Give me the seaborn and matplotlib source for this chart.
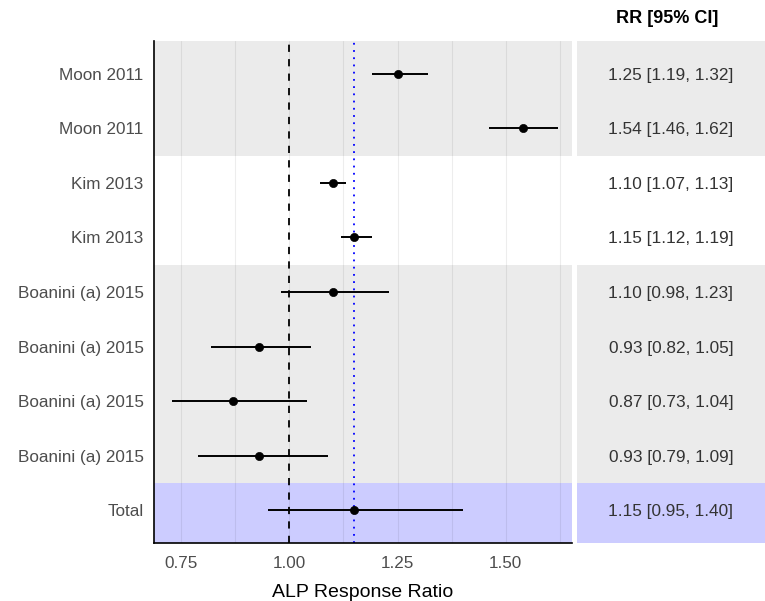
import numpy as np
import pandas as pd
import matplotlib
matplotlib.use('Agg')
import matplotlib.pyplot as plt
import seaborn as sns

# data
studies = ['Moon 2011', 'Moon 2011', 'Kim 2013', 'Kim 2013',
           'Boanini (a) 2015', 'Boanini (a) 2015', 'Boanini (a) 2015',
           'Boanini (a) 2015', 'Total']
rr = [1.25, 1.54, 1.10, 1.15, 1.10, 0.93, 0.87, 0.93, 1.15]
ci_low = [1.19, 1.46, 1.07, 1.12, 0.98, 0.82, 0.73, 0.79, 0.95]
ci_high = [1.32, 1.62, 1.13, 1.19, 1.23, 1.05, 1.04, 1.09, 1.40]
# band colour per row group
band_groups = [(0, 1, '#EBEBEB'), (2, 3, '#FFFFFF'), (4, 7, '#EBEBEB'), (8, 8, '#CCCCFF')]
x_ticks = [0.75, 1.00, 1.25, 1.50]
pooled = 1.15

df = pd.DataFrame({'study': studies, 'rr': rr, 'lo': ci_low, 'hi': ci_high})
df['pos'] = np.arange(len(df))

sns.set_style('white')
plt.rcParams['font.family'] = ['Liberation Sans', 'DejaVu Sans']

fig = plt.figure(figsize=(7.65, 6.01), dpi=100)
W, H = 765, 601
top, bottom = 41, 543
ax = fig.add_axes([154 / W, (H - bottom) / H, (572 - 154) / W, (bottom - top) / H])
ax_t = fig.add_axes([577 / W, (H - bottom) / H, (W - 577) / W, (bottom - top) / H])

n = len(df)
y0, y1 = -0.6, n - 0.4

# background bands
for a in (ax, ax_t):
    for s, e, c in band_groups:
        lo = y0 if s == 0 else s - 0.5
        hi = y1 if e == n - 1 else e + 0.5
        a.axhspan(lo, hi, color=c, lw=0, zorder=0)

# grid lines (major + minor)
for g in np.arange(0.625, 1.7, 0.125):
    ax.axvline(g, color='black', alpha=0.07, lw=0.8, zorder=1)

ax.axvline(1.0, color='black', ls=(0, (4, 4)), lw=1.3, zorder=2)
ax.axvline(pooled, color='blue', ls=(0, (1, 3)), lw=1.3, zorder=2)

ax.hlines(df['pos'], df['lo'], df['hi'], color='black', lw=1.4, zorder=3)
sns.scatterplot(data=df, x='rr', y='pos', ax=ax, color='black', s=35,
                edgecolor='black', zorder=4, legend=False)

ax.set_xlim(0.6875, 1.6528)
ax.set_ylim(y1, y0)
ax.set_yticks(df['pos'])
ax.set_yticklabels(df['study'])
ax.set_xticks(x_ticks)
ax.set_xticklabels([f'{v:.2f}' for v in x_ticks])
ax.tick_params(axis='both', colors='#333333', labelcolor='#4D4D4D',
               labelsize=12.3, length=4, width=1.1, direction='out')
ax.tick_params(axis='x', pad=5)
ax.set_xlabel('ALP Response Ratio', fontsize=14, color='black', labelpad=10)
ax.set_ylabel('')
for side in ('top', 'right'):
    ax.spines[side].set_visible(False)
for side in ('left', 'bottom'):
    ax.spines[side].set_color('black')
    ax.spines[side].set_linewidth(1.2)

# table panel
ax_t.set_xlim(0, 1)
ax_t.set_ylim(y1, y0)
for p, r, l, h in zip(df['pos'], df['rr'], df['lo'], df['hi']):
    ax_t.text(0.5, p, f'{r:.2f} [{l:.2f}, {h:.2f}]', ha='center', va='center_baseline',
              fontsize=12.4, color='#333333')
ax_t.text(0.48, y0 - 0.42, 'RR [95% CI]', ha='center', va='center',
          fontsize=13, fontweight='bold', color='black', clip_on=False)
ax_t.axis('off')

fig.savefig('out.png', dpi=100)
